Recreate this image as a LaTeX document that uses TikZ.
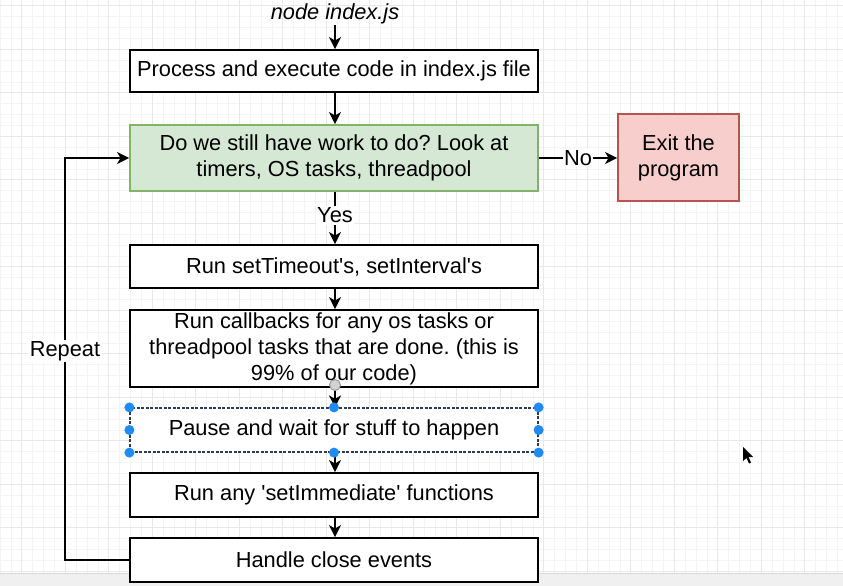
\documentclass[tikz,border=0pt]{standalone}
\usepackage{fontspec}
\setmainfont{Liberation Sans}
\frenchspacing
\usetikzlibrary{arrows.meta}
\definecolor{gridmaj}{HTML}{E8E8E8}
\definecolor{gridmin}{HTML}{F4F4F4}
\definecolor{gfill}{HTML}{D5E8D4}
\definecolor{gline}{HTML}{82B366}
\definecolor{rfill}{HTML}{F8CECC}
\definecolor{rline}{HTML}{B85450}
\definecolor{handle}{HTML}{1F8BF5}
\definecolor{selline}{HTML}{2B3A55}
\tikzset{
  box/.style={draw=black, line width=1.9pt, fill=white, minimum width=408pt, align=center,
    font=\fontsize{21.8}{26}\selectfont, inner sep=0pt},
  greenbox/.style={box, fill=gfill, draw=gline},
  redbox/.style={draw=rline, line width=1.9pt, fill=rfill, minimum width=121pt, minimum height=87pt,
    align=center, font=\fontsize{21.8}{26}\selectfont, inner sep=0pt},
  selbox/.style={box, draw=selline, line width=1.2pt, dash pattern=on 3pt off 1.5pt},
  arr/.style={line width=2.4pt, -{Stealth[length=12pt,width=12pt,inset=3.5pt]}},
  lbl/.style={fill=white, inner sep=1.5pt, font=\fontsize{21.8}{26}\selectfont},
  hnd/.style={circle, fill=handle, inner sep=0pt, minimum size=10pt},
}
\begin{document}
\begin{tikzpicture}[x=1pt, y=-1pt]
\useasboundingbox (0,0) rectangle (843,586);
\fill[white] (0,0) rectangle (843,586);
% grid
\foreach \i in {-2,...,77} \draw[gridmin, line width=0.6pt] (21.7+10.875*\i,0) -- (21.7+10.875*\i,586);
\foreach \j in {0,...,54} \draw[gridmin, line width=0.6pt] (0,5.7+10.875*\j) -- (843,5.7+10.875*\j);
\foreach \i in {0,...,19} \draw[gridmaj, line width=0.9pt] (21.7+43.5*\i,0) -- (21.7+43.5*\i,586);
\foreach \j in {0,...,13} \draw[gridmaj, line width=0.9pt] (0,5.7+43.5*\j) -- (843,5.7+43.5*\j);
% bottom band
\fill[gray!12] (0,573) rectangle (843,586);
\draw[gray!30, line width=0.8pt] (0,573) -- (843,573);

% nodes
\node[font=\fontsize{21.8}{26}\selectfont\itshape, inner sep=1pt] (title) at (335,14) {node index.js};
\node[box, minimum height=42pt] (b1) at (334,71) {Process and execute code in index.js file};
\node[greenbox, minimum height=66pt] (g) at (334,158) {Do we still have work to do? Look at\\timers, OS tasks, threadpool};
\node[redbox] (exit) at (678.5,157.5) {Exit the\\program};
\node[box, minimum height=43pt] (b3) at (334,266.5) {Run setTimeout\textquotesingle s, setInterval\textquotesingle s};
\node[box, minimum height=77pt] (b4) at (334,348.5) {Run callbacks for any os tasks or\\threadpool tasks that are done. (this is\\99\% of our code)};
\node[selbox, minimum height=44pt] (b5) at (334,430) {Pause and wait for stuff to happen};
\node[box, minimum height=44pt] (b6) at (334,495) {Run any \textquotesingle setImmediate\textquotesingle{} functions};
\node[box, minimum height=44pt] (b7) at (334,560) {Handle close events};

\coordinate (rb) at (65,560);
\coordinate (rt) at (65,158);

% connectors
\draw[arr] (title) -- (title |- b1.north);
\draw[arr] (b1.south -| title) -- (g.north -| title);
\draw[arr] (g.east) -- node[lbl] {No} (exit.west |- g.east);
\draw[arr] (g.south -| title) -- node[lbl, pos=0.45] {Yes} (b3.north -| title);
\draw[arr] (b3.south -| title) -- (b4.north -| title);
\draw[arr] (b4.south -| title) -- (b5.north -| title);
\draw[arr] (b5.south -| title) -- (b6.north -| title);
\draw[arr] (b6.south -| title) -- (b7.north -| title);
\draw[arr] (b7.west) -- (rb) -- node[lbl, pos=0.52] {Repeat} (rt) -- (g.west);

% selection handles
\foreach \a in {north west, north, north east, west, east, south west, south, south east}
  \node[hnd] at (b5.\a) {};
\node[circle, draw=gray!80, fill=gray!35, line width=1pt, minimum size=11pt, inner sep=0pt] (icon) at (335,385) {};

% cursor
\fill[black] (743,447) -- (743,461) -- (746.5,458) -- (749,463.5) -- (751,462.5) -- (748.5,457) -- (753,457) -- cycle;
\end{tikzpicture}
\end{document}
